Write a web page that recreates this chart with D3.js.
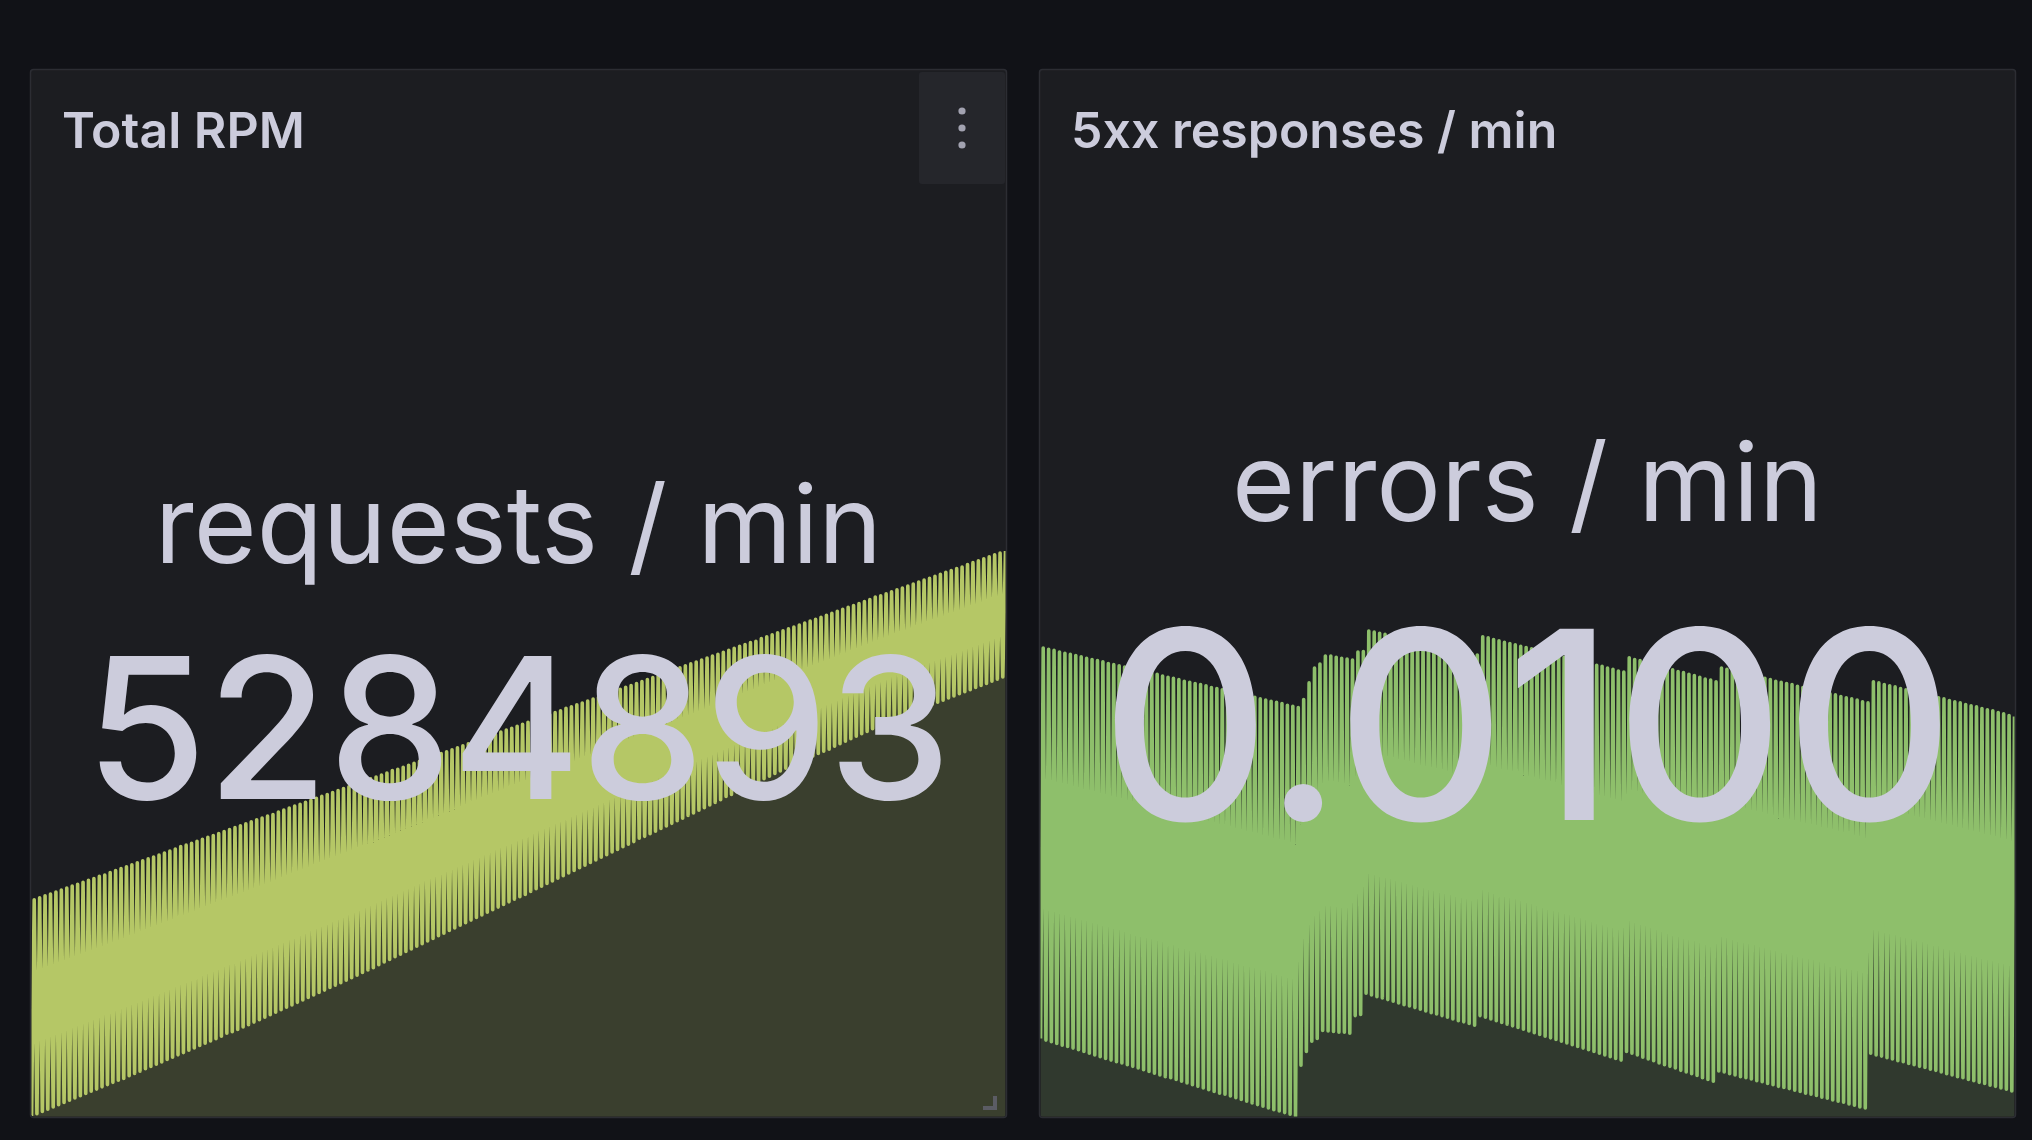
<!DOCTYPE html>
<html><head><meta charset="utf-8">
<script src="https://cdn.jsdelivr.net/npm/d3@7"></script>
<style>
html,body{margin:0;padding:0;background:#111217;}
svg{display:block;}
text{font-family:Inter,"Noto Sans",sans-serif;}
</style></head><body>
<svg id="c" width="2032" height="1140"></svg>
<script>
const panelTitles = ["Total RPM", "5xx responses / min"];
const statLabels = ["requests / min", "errors / min"];
const statValues = ["5284893", "0.0100"];

// Total RPM: alternating scrape samples, thousands of requests / min
const rpmLow = [1507,1522,1537,1552,1567,1582,1597,1612,1627,1642,
1657,1672,1687,1702,1717,1732,1747,1758,1777,1792,
1807,1823,1838,1854,1869,1885,1900,1916,1931,1947,
1962,1978,1993,2009,2024,2040,2060,2071,2086,2102,
2118,2135,2151,2168,2184,2201,2217,2234,2250,2267,
2283,2300,2316,2333,2349,2366,2382,2399,2415,2432,
2449,2467,2484,2498,2519,2537,2554,2572,2589,2607,
2624,2642,2659,2677,2694,2712,2729,2747,2764,2782,
2799,2817,2834,2852,2869,2887,2904,2922,2939,2957,
2974,2988,3009,3027,3044,3062,3079,3097,3114,3132,
3149,3167,3184,3202,3219,3237,3254,3272,3289,3307,
3324,3342,3364,3377,3394,3412,3429,3447,3464,3482,
3499,3517,3534,3552,3569,3587,3604,3622,3643,3657,
3674,3692,3709,3727,3744,3762,3779,3797,3814,3832,
3848,3865,3881,3898,3914,3931,3947,3960,3980,3997,
4013,4030,4046,4063,4079,4096,4112,4129,4145,4162,
4176,4190,4204,4218,4232,4250,4260,4274,4288,4302,
4316,4330,4344,4358,4372,4386,4400,4414,4428,4442];
const rpmHigh = [2953,2966,2979,2991,3005,3018,3031,3044,3057,3070,
3083,3095,3109,3118,3135,3148,3161,3174,3187,3200,
3214,3226,3239,3252,3265,3279,3292,3309,3318,3331,
3344,3357,3370,3383,3396,3409,3422,3435,3448,3461,
3474,3487,3500,3513,3523,3540,3553,3566,3579,3592,
3605,3618,3631,3644,3657,3670,3683,3696,3709,3722,
3735,3748,3761,3774,3787,3800,3817,3826,3839,3852,
3865,3878,3891,3904,3917,3930,3943,3956,3969,3982,
3995,4008,4022,4035,4048,4057,4074,4087,4100,4113,
4126,4139,4152,4165,4178,4191,4204,4217,4234,4243,
4256,4269,4282,4295,4308,4321,4334,4347,4360,4373,
4386,4399,4412,4425,4438,4451,4465,4482,4491,4504,
4517,4530,4543,4556,4569,4582,4595,4608,4621,4634,
4647,4660,4673,4682,4699,4712,4725,4738,4751,4764,
4777,4790,4803,4816,4829,4842,4855,4868,4882,4895,
4908,4921,4934,4947,4960,4977,4986,4999,5012,5025,
5038,5051,5064,5077,5090,5103,5116,5129,5142,5155,
5168,5177,5194,5207,5220,5233,5246,5259,5272,5285];

// 5xx responses: alternating scrape samples, 1e-5 errors / min
const errLow = [436,433,430,427,424,422,419,416,413,410,
407,404,401,398,395,393,390,387,384,381,
378,375,372,369,367,364,361,358,355,352,
349,346,343,340,338,335,332,329,326,323,
320,317,314,311,309,306,303,300,
389,413,431,436,450,449,448,447,447,445,476,478,515,
512,509,507,504,501,498,495,493,490,487,484,481,479,476,473,470,467,465,462,459,
476,473,470,467,464,461,458,455,452,449,446,443,440,437,434,431,428,425,422,419,416,413,410,407,404,401,398,
413,410,407,403,400,397,393,390,387,384,380,377,374,371,367,364,361,
379,377,374,372,369,367,365,362,360,357,355,352,350,348,345,343,340,338,336,333,331,328,326,324,321,319,316,314,
410,407,405,402,400,397,395,392,390,387,385,382,380,377,374,372,369,367,364,362,359,357,354,352,349,347,344];
const errHigh = [1120,1118,1116,1113,1111,1109,1107,1105,1102,1100,
1098,1096,1093,1091,1089,1087,1085,1082,1080,1078,
1076,1074,1071,1069,1067,1065,1062,1060,1058,1056,
1054,1051,1049,1047,1045,1043,1040,1038,1036,1034,
1031,1029,1027,1025,1023,1020,1018,1016,
1030,1059,1085,1092,1106,1106,1104,1102,1101,1099,1113,1114,1150,
1148,1146,1144,1142,1140,1137,1135,1133,1131,1129,1127,1125,1123,1121,1119,1116,1114,1112,1110,1108,
1140,1138,1135,1133,1130,1128,1126,1123,1121,1119,1116,1114,1111,1109,1107,1104,1102,1099,1097,1095,1092,1090,1088,1085,1083,1080,1078,
1103,1100,1098,1095,1093,1090,1087,1085,1082,1079,1077,1074,1072,1069,1066,1064,1061,
1085,1083,1080,1078,1076,1074,1071,1069,1067,1065,1062,1060,1058,1056,1053,1051,1049,1047,1044,1042,1040,1038,1035,1033,1031,1029,1026,1024,
1061,1059,1056,1054,1052,1049,1047,1045,1042,1040,1038,1035,1033,1031,1028,1026,1024,1021,1019,1017,1014,1012,1010,1007,1005,1002,1000];

const svg = d3.select("#c");
const TEXT = "#ccccdc";

const panels = [
  {x:30, y:69, w:977, h:1049, low:rpmLow, high:rpmHigh, color:"#b5c766", fo:0.2, sparkTop:551,
   labelY:563, labelSize:108, valueY:799, valueSize:196.5, menu:true},
  {x:1039, y:69, w:977, h:1049, low:errLow, high:errHigh, color:"#8ebf6b", fo:0.18, sparkTop:631,
   labelY:521, labelSize:108, valueY:820, valueSize:263, menu:false}
];

const defs = svg.append("defs");

panels.forEach((p, idx) => {
  const g = svg.append("g");
  g.append("rect")
    .attr("x", p.x + 0.5).attr("y", p.y + 0.5)
    .attr("width", p.w - 1).attr("height", p.h - 1)
    .attr("rx", 3)
    .attr("fill", "#1c1d21").attr("stroke", "#2c2d33").attr("stroke-width", 1.5);

  const clipId = "clip" + idx;
  defs.append("clipPath").attr("id", clipId)
    .append("rect")
    .attr("x", p.x + 1.5).attr("y", p.y + 1.5)
    .attr("width", p.w - 3).attr("height", p.h - 3).attr("rx", 2);

  const series = d3.merge(p.low.map((v, i) => [v, p.high[i]]));
  const x = d3.scaleLinear().domain([0, series.length - 1]).range([p.x + 1.5, p.x + p.w - 1.5]);
  const y = d3.scaleLinear().domain(d3.extent(series)).range([p.y + p.h - 2, p.sparkTop]);

  const sg = g.append("g").attr("clip-path", `url(#${clipId})`);
  sg.append("path")
    .datum(series)
    .attr("d", d3.area().x((d, i) => x(i)).y0(p.y + p.h).y1(d => y(d)))
    .attr("fill", p.color).attr("fill-opacity", p.fo);
  sg.append("path")
    .datum(series)
    .attr("d", d3.line().x((d, i) => x(i)).y(d => y(d)))
    .attr("fill", "none").attr("stroke", p.color)
    .attr("stroke-width", 3.6).attr("stroke-linejoin", "round");

  // title
  g.append("text")
    .attr("x", p.x + 32).attr("y", 148)
    .attr("fill", TEXT).attr("font-size", 50).attr("font-weight", 600)
    .text(panelTitles[idx]);

  if (p.menu) {
    g.append("rect").attr("x", p.x + p.w - 88).attr("y", 72)
      .attr("width", 86).attr("height", 112).attr("rx", 3).attr("fill", "#25262b");
    [111, 128, 145].forEach(cy => {
      g.append("circle").attr("cx", p.x + p.w - 45).attr("cy", cy).attr("r", 3.6).attr("fill", "#a2a2b0");
    });
    g.append("path")
      .attr("d", `M${p.x + p.w - 12},${p.y + p.h - 22} L${p.x + p.w - 12},${p.y + p.h - 10} L${p.x + p.w - 24},${p.y + p.h - 10}`)
      .attr("fill", "none").attr("stroke", "#5b5c64").attr("stroke-width", 4);
  }

  const cx = p.x + p.w / 2;
  g.append("text")
    .attr("x", cx).attr("y", p.labelY).attr("text-anchor", "middle")
    .attr("fill", TEXT).attr("font-size", p.labelSize).attr("font-weight", 400)
    .text(statLabels[idx]);
  g.append("text")
    .attr("x", cx).attr("y", p.valueY).attr("text-anchor", "middle")
    .attr("fill", TEXT).attr("font-size", p.valueSize).attr("font-weight", 500)
    .text(statValues[idx]);
});
</script>
</body></html>
